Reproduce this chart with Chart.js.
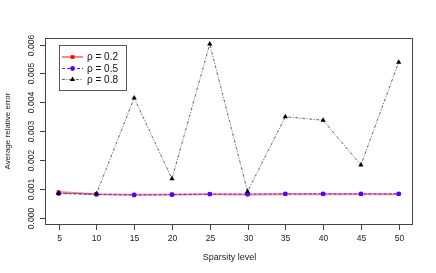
<!DOCTYPE html>
<html>
<head>
<meta charset="utf-8">
<script src="https://cdn.jsdelivr.net/npm/chart.js@4"></script>
<style>
  body { margin: 0; background: #fff; }
  #wrap { width: 436px; height: 273px; }
</style>
</head>
<body>
<div id="wrap"><canvas id="chart" width="436" height="273"></canvas></div>
<script>
// data
const sparsity = [5, 10, 15, 20, 25, 30, 35, 40, 45, 50];
const rho02 = [0.00089, 0.00082, 0.00080, 0.00081, 0.00082, 0.00081, 0.00082, 0.00082, 0.00082, 0.00082];
const rho05 = [0.00084, 0.00081, 0.00079, 0.00080, 0.00082, 0.00082, 0.00083, 0.00083, 0.00083, 0.00083];
const rho08 = [0.00085, 0.00083, 0.00415, 0.00135, 0.00602, 0.00091, 0.00350, 0.00338, 0.00183, 0.00539];
const yTicks = [0, 0.001, 0.002, 0.003, 0.004, 0.005, 0.006];
const xTicks = [5, 10, 15, 20, 25, 30, 35, 40, 45, 50];
const seriesNames = ["ρ = 0.2", "ρ = 0.5", "ρ = 0.8"];

const FONT = "'Liberation Sans', Arial, sans-serif";

function pts(vals) {
  return sparsity.map((s, i) => ({ x: s, y: vals[i] }));
}

/* ===== axes, box, legend (R-style) ===== */
const rAxes = {
  id: "rAxes",
  afterDraw(chart) {
    const ctx = chart.ctx;
    const a = chart.chartArea;
    const xs = chart.scales.x, ys = chart.scales.y;
    ctx.save();
    ctx.strokeStyle = "#444";
    ctx.lineWidth = 1;
    ctx.strokeRect(Math.round(a.left) + 0.5, Math.round(a.top) + 0.5,
      Math.round(a.right - a.left), Math.round(a.bottom - a.top));

    ctx.fillStyle = "#222";
    ctx.font = "8.5px " + FONT;
    // x ticks
    ctx.textAlign = "center";
    ctx.textBaseline = "middle";
    xTicks.forEach(v => {
      const px = Math.round(xs.getPixelForValue(v)) + 0.5;
      ctx.beginPath();
      ctx.moveTo(px, Math.round(a.bottom) + 0.5);
      ctx.lineTo(px, Math.round(a.bottom) + 6);
      ctx.stroke();
      ctx.fillText(String(v), px, a.bottom + 15);
    });
    // y ticks, rotated labels
    yTicks.forEach(v => {
      const py = Math.round(ys.getPixelForValue(v)) + 0.5;
      ctx.beginPath();
      ctx.moveTo(Math.round(a.left) + 0.5, py);
      ctx.lineTo(Math.round(a.left) - 5, py);
      ctx.stroke();
      ctx.save();
      ctx.translate(a.left - 13, py);
      ctx.rotate(-Math.PI / 2);
      ctx.fillText(v.toFixed(3), 0, 0);
      ctx.restore();
    });
    // axis titles
    ctx.font = "9px " + FONT;
    ctx.fillText("Sparsity level", (a.left + a.right) / 2 + 1, 258);
    ctx.font = "8px " + FONT;
    ctx.save();
    ctx.translate(8, (a.top + a.bottom) / 2);
    ctx.rotate(-Math.PI / 2);
    ctx.fillText("Average relative error", 0, 0);
    ctx.restore();

    // legend box
    ctx.strokeStyle = "#555";
    ctx.strokeRect(59.5, 45.5, 67, 45);
    const rows = [57, 68.5, 79.5];
    chart.data.datasets.forEach((ds, i) => {
      const y = rows[i];
      ctx.save();
      ctx.strokeStyle = ds.borderColor;
      ctx.lineWidth = ds.borderWidth;
      ctx.setLineDash(ds.borderDash || []);
      ctx.beginPath();
      ctx.moveTo(62, y);
      ctx.lineTo(83, y);
      ctx.stroke();
      ctx.restore();
      ctx.fillStyle = ds.pointBackgroundColor;
      ctx.strokeStyle = ds.pointBackgroundColor;
      Chart.helpers.drawPoint(ctx, {
        pointStyle: ds.pointStyle,
        radius: ds.pointRadius,
        rotation: 0,
        borderWidth: 0
      }, 72.5, y);
      ctx.fillStyle = "#111";
      ctx.font = "10px " + FONT;
      ctx.textAlign = "left";
      ctx.fillText(ds.label, 87, y + 0.5);
    });
    ctx.restore();
  }
};

const lineCtx = document.getElementById("chart");

new Chart(lineCtx, {
  type: "line",
  data: {
    datasets: [{
      label: seriesNames[0],
      data: pts(rho02),
      borderColor: "rgba(255,40,40,0.55)",
      borderWidth: 2,
      pointStyle: "rect",
      pointRadius: 2.6,
      pointBackgroundColor: "#ff0000",
      pointBorderWidth: 0,
      order: 3
    }, {
      label: seriesNames[1],
      data: pts(rho05),
      borderColor: "#5a1fff",
      borderWidth: 1,
      borderDash: [3, 2],
      pointStyle: "circle",
      pointRadius: 2.4,
      pointBackgroundColor: "#5200ff",
      pointBorderWidth: 0,
      order: 2
    }, {
      label: seriesNames[2],
      data: pts(rho08),
      borderColor: "#555",
      borderWidth: 0.9,
      borderDash: [3, 1.5, 1, 1.5],
      pointStyle: "triangle",
      pointRadius: 3,
      pointBackgroundColor: "#000",
      pointBorderWidth: 0,
      order: 1
    }]
  },
  options: {
    responsive: false,
    animation: false,
    layout: { padding: { left: 45, top: 38, right: 24, bottom: 49 } },
    plugins: { legend: { display: false }, tooltip: { enabled: false } },
    scales: {
      x: { type: "linear", min: 3.2, max: 51.76, display: false },
      y: { type: "linear", min: -0.000215, max: 0.00623, display: false }
    }
  },
  plugins: [rAxes]
});
</script>
</body>
</html>
